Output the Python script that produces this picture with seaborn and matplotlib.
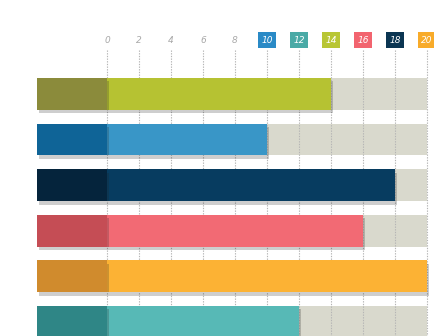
import matplotlib
matplotlib.use("Agg")
import matplotlib.pyplot as plt
import matplotlib.patheffects as pe
import seaborn as sns
import pandas as pd

categories = ["A", "B", "C", "D", "E", "F"]
values = [14, 10, 18, 16, 20, 12]
track_max = 20
stub_len = 4.375
tick_values = [0, 2, 4, 6, 8, 10, 12, 14, 16, 18, 20]
tick_labels = ["0", "2", "4", "6", "8", "10", "12", "14", "16", "18", "20"]
tick_box_colors = [None, None, None, None, None,
                   "#2a8ac6", "#4aaaa6", "#b8c634", "#f2646f", "#0b3552", "#f8ab2a"]
bar_colors = ["#b6c232", "#3996c7", "#073c60", "#f26a74", "#fcb234", "#57b9b6"]
stub_colors = ["#8b8b3b", "#0f6497", "#05243c", "#c54d55", "#d08b2d", "#2f8686"]
track_color = "#d9d9cd"

df = pd.DataFrame({"cat": categories, "val": values,
                   "track": [track_max] * len(categories),
                   "stub": [-stub_len] * len(categories)})

sns.set_style("white")
fig = plt.figure(figsize=(4.35, 3.36), dpi=100)
ax = fig.add_axes([0, 0, 1, 1])

# vertical dotted grid
for t in tick_values:
    ax.vlines(t, -0.96, 5.4, colors="#b5b5b5", linestyles=(0, (1.2, 1.2)), linewidth=0.8, zorder=1)

sns.barplot(data=df, x="track", y="cat", orient="h", color=track_color, width=0.70,
            ax=ax, saturation=1, linewidth=0, zorder=0)
n0 = len(ax.patches)
sns.barplot(data=df, x="val", y="cat", orient="h", hue="cat", palette=bar_colors,
            legend=False, width=0.70, ax=ax, saturation=1, linewidth=0)
shadow = [pe.SimplePatchShadow(offset=(1.5, -2.5), alpha=0.22, shadow_rgbFace="#222222"), pe.Normal()]
for p in ax.patches[n0:]:
    p.set_zorder(3)
    p.set_path_effects(shadow)
n1 = len(ax.patches)
sns.barplot(data=df, x="stub", y="cat", orient="h", hue="cat", palette=stub_colors,
            legend=False, width=0.70, ax=ax, saturation=1, linewidth=0)
for p in ax.patches[n1:]:
    p.set_zorder(3)
    p.set_path_effects(shadow)

# tick labels on top
for t, lab, bc in zip(tick_values, tick_labels, tick_box_colors):
    if bc is None:
        ax.text(t, -1.18, lab, ha="center", va="center", fontsize=6.5, style="italic",
                color="#a8a8a8", zorder=5)
    else:
        ax.text(t, -1.18, lab, ha="center", va="center", fontsize=6.5, style="italic",
                color="white", zorder=5,
                bbox=dict(boxstyle="square,pad=0.4", fc=bc, ec="none"))

ax.set_xlim(-107 / 16, (435 - 107) / 16)
ax.set_ylim(5.31, -2.06)
ax.set_xlabel("")
ax.set_ylabel("")
ax.set_xticks([])
ax.set_yticks([])
for s in ax.spines.values():
    s.set_visible(False)
fig.patch.set_facecolor("white")
ax.set_facecolor("white")
fig.savefig("out.png", dpi=100)
